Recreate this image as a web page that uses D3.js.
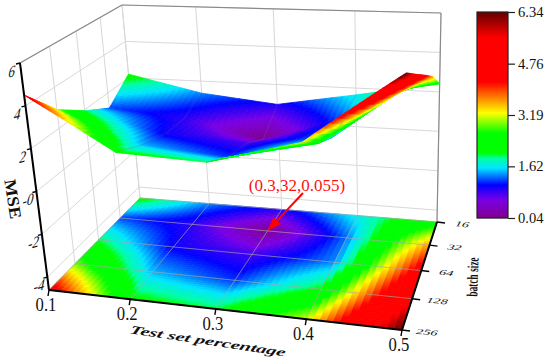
<!DOCTYPE html>
<html>
<head>
<meta charset="utf-8">
<script src="https://cdn.jsdelivr.net/npm/d3@7"></script>
<style>
  html, body { margin: 0; background: #fff; }
  text { font-family: "Liberation Serif", serif; }
</style>
</head>
<body>
<div id="chart"></div>
<script>
// values
var testShares = [0.1, 0.2, 0.3, 0.4, 0.5];
var batchSizes = [16, 32, 64, 128, 256];
var mse16  = [2.2, 1.35, 0.95, 1.65, 2.4];
var mse32  = [1.2, 0.9, 0.055, 1.3, 3.6];
var mse64  = [1.95, 1.0, 0.8, 1.35, 4.5];
var mse128 = [2.9, 1.45, 1.15, 2.05, 5.4];
var mse256 = [4.5, 2.1, 1.95, 3.1, 6.34];
var mseRows = [mse16, mse32, mse64, mse128, mse256];
var zTicks = [-4, -2, 0, 2, 4, 6];
var zLabels = ["-4", "-2", "-0", "2", "4", "6"];
var zFloor = -4.6;
var barTicks = [0.04, 1.62, 3.19, 4.76, 6.34];
var colorStops = [0.04, 0.59, 1.05, 1.57, 1.87, 2.03, 2.64, 3.25, 4.2, 5.55, 6.34];
var colorValues = ["#80008c", "#7a00e6", "#0000ff", "#00e6ff", "#00ffa0", "#00ff00", "#00ff00", "#ffff00", "#ff0000", "#ff0000", "#640000"];

var width = 550, height = 363;
var svg = d3.select("#chart").append("svg")
  .attr("width", width)
  .attr("height", height)
  .style("display", "block");

// screen corners of the box: front-left, front-right, back-right, back-left
var floorCorners = [[49, 290], [402, 330], [437, 222], [140, 198]];
var topCorners = [[20, 63], [406, 81], [441, 13], [122, 5]];

function quadMap(c) {
  // unit square -> quad, perspective
  var dx1 = c[1][0] - c[2][0], dx2 = c[3][0] - c[2][0], sx = c[0][0] - c[1][0] + c[2][0] - c[3][0];
  var dy1 = c[1][1] - c[2][1], dy2 = c[3][1] - c[2][1], sy = c[0][1] - c[1][1] + c[2][1] - c[3][1];
  var det = dx1 * dy2 - dx2 * dy1;
  var g = (sx * dy2 - dx2 * sy) / det;
  var h = (dx1 * sy - sx * dy1) / det;
  var a = c[1][0] - c[0][0] + g * c[1][0], b = c[3][0] - c[0][0] + h * c[3][0];
  var d = c[1][1] - c[0][1] + g * c[1][1], e = c[3][1] - c[0][1] + h * c[3][1];
  return function (u, v) {
    var w = g * u + h * v + 1;
    return [(a * u + b * v + c[0][0]) / w, (d * u + e * v + c[0][1]) / w];
  };
}
var floorMap = quadMap(floorCorners), topMap = quadMap(topCorners);

var uScale = d3.scaleLinear().domain([0.1, 0.5]).range([0, 1]);
var vScale = d3.scalePoint().domain(batchSizes.slice().reverse()).range([0, 1]);
var zScale = d3.scaleLinear().domain([zFloor, 6]).range([0, 1]);
var color = d3.scaleLinear().domain(colorStops).range(colorValues).clamp(true);

function project(u, v, z) {
  var f = floorMap(u, v), t = topMap(u, v), k = zScale(z);
  return [f[0] + (t[0] - f[0]) * k, f[1] + (t[1] - f[1]) * k];
}
var line = d3.line();

function pathLine(cls, stroke, w, a, b, op) {
  svg.append("path").attr("class", cls)
    .attr("d", line([a, b]))
    .attr("fill", "none")
    .attr("stroke", stroke)
    .attr("stroke-width", w)
    .attr("opacity", op === undefined ? 1 : op);
}

// walls
batchSizes.forEach(function (b) {
  pathLine("grid", "#d8d8d8", 1, project(0, vScale(b), zFloor), project(0, vScale(b), 6));
});
testShares.forEach(function (s) {
  pathLine("grid", "#d8d8d8", 1, project(uScale(s), 1, zFloor), project(uScale(s), 1, 6));
});
zTicks.forEach(function (z) {
  pathLine("grid", "#d8d8d8", 1, project(0, 0, z), project(0, 1, z));
  pathLine("grid", "#d8d8d8", 1, project(0, 1, z), project(1, 1, z));
});
pathLine("edge", "#8a8a8a", 1.2, project(0, 0, 6), project(0, 1, 6));
pathLine("edge", "#8a8a8a", 1.2, project(0, 1, 6), project(1, 1, 6));
pathLine("edge", "#8a8a8a", 1.2, project(1, 1, 6), project(1, 1, zFloor));

// bilinear read of the grid, used only to shade the mesh
function mseAt(i, j, fi, fj) {
  var r0 = mseRows[j], r1 = mseRows[Math.min(j + 1, 4)];
  var i1 = Math.min(i + 1, 4);
  return (r0[i] * (1 - fi) + r0[i1] * fi) * (1 - fj) + (r1[i] * (1 - fi) + r1[i1] * fi) * fj;
}

var steps = 14;
var cells = [];
d3.range(4).forEach(function (j) {
  d3.range(steps).forEach(function (sj) {
    d3.range(4).forEach(function (i) {
      d3.range(steps).forEach(function (si) {
        cells.push({ i: i, j: j, a: si / steps, b: sj / steps, c: (si + 1) / steps, d: (sj + 1) / steps });
      });
    });
  });
});
function cellPos(cell, fi, fj, flat) {
  var u = (cell.i + fi) / 4;
  var v = 1 - (cell.j + fj) / 4;
  return project(u, v, flat ? zFloor : mseAt(cell.i, cell.j, fi, fj));
}
function cellPath(flat) {
  return function (c) {
    return line([cellPos(c, c.a, c.b, flat), cellPos(c, c.c, c.b, flat), cellPos(c, c.c, c.d, flat), cellPos(c, c.a, c.d, flat)]) + "Z";
  };
}
function cellColor(c) {
  return color(mseAt(c.i, c.j, (c.a + c.c) / 2, (c.b + c.d) / 2));
}

// floor map
svg.append("g").attr("class", "floor").selectAll("path")
  .data(cells).join("path")
  .attr("d", cellPath(true))
  .attr("fill", cellColor)
  .attr("stroke", cellColor)
  .attr("stroke-width", 0.8);

batchSizes.forEach(function (b) {
  pathLine("mesh", "#a8a8a8", 1, project(0, vScale(b), zFloor), project(1, vScale(b), zFloor), 0.65);
});
testShares.forEach(function (s) {
  pathLine("mesh", "#a8a8a8", 1, project(uScale(s), 0, zFloor), project(uScale(s), 1, zFloor), 0.65);
});

// raised surface, back rows first
svg.append("g").attr("class", "surface").selectAll("path")
  .data(cells).join("path")
  .attr("d", cellPath(false))
  .attr("fill", cellColor)
  .attr("stroke", cellColor)
  .attr("stroke-width", 0.8);

// faint mesh on the surface
testShares.forEach(function (s, i) {
  if (i === 0 || i === 4) return;
  svg.append("path")
    .attr("d", line(batchSizes.map(function (b, j) { return project(uScale(s), vScale(b), mseRows[j][i]); })))
    .attr("fill", "none").attr("stroke", "#777").attr("stroke-width", 0.8).attr("opacity", 0.3);
});

// axes
pathLine("axis", "#000", 2, project(0, 0, zFloor), project(0, 0, 6));
pathLine("axis", "#000", 2, project(0, 0, zFloor), project(1, 0, zFloor));
pathLine("axis", "#000", 2, project(1, 0, zFloor), project(1, 1, zFloor));

function label(str, x, y, size, tf, attrs) {
  var t = svg.append("text")
    .attr("transform", "translate(" + x + "," + y + ") " + (tf || ""))
    .attr("text-anchor", "middle")
    .attr("dominant-baseline", "central")
    .attr("font-size", size)
    .attr("fill", "#111")
    .text(str);
  Object.keys(attrs || {}).forEach(function (k) { t.attr(k, attrs[k]); });
  return t;
}

testShares.forEach(function (s) {
  var p = project(uScale(s), 0, zFloor);
  pathLine("tick", "#000", 1.4, p, [p[0] - 1, p[1] + 6]);
  label(d3.format(".1f")(s), p[0] - 3, p[1] + 15, 17.5, "scale(0.95,1.05)");
});
batchSizes.forEach(function (b) {
  var p = project(1, vScale(b), zFloor);
  pathLine("tick", "#000", 1.4, p, [p[0] + 8, p[1] + 1]);
  label(b, p[0] + 25, p[1] + 2.5, 9.5, "rotate(5) skewX(-25) scale(1.5,0.8)");
});
zTicks.forEach(function (z, i) {
  var p = project(0, 0, z);
  pathLine("tick", "#000", 1.4, p, [p[0] - 4, p[1] + 1]);
  label(zLabels[i], p[0] - 8, p[1] + 8, 15, "rotate(12) skewY(-28) scale(0.8,1.15)");
});

label("MSE", 13, 199, 16, "rotate(81) scale(1.15,1.05)", { "font-weight": "bold" });
label("batch size", 473, 277, 13, "rotate(-88) scale(0.72,1.2)", { "font-weight": "bold" });
label("Test set percentage", 208, 341, 14, "rotate(8.5) skewX(-12) scale(1.45,0.85)", { "font-weight": "bold", "font-style": "italic" });

// annotation
var tip = project(uScale(0.3), vScale(32), zFloor);
var from = [303, 193];
var ang = Math.atan2(tip[1] - from[1], tip[0] - from[0]);
var neck = [tip[0] - 14 * Math.cos(ang), tip[1] - 14 * Math.sin(ang)];
pathLine("arrow", "#ff0000", 2, from, neck);
svg.append("path")
  .attr("d", line([
    tip,
    [neck[0] + 5 * Math.sin(ang), neck[1] - 5 * Math.cos(ang)],
    [neck[0] - 5 * Math.sin(ang), neck[1] + 5 * Math.cos(ang)]
  ]) + "Z")
  .attr("fill", "#ff0000");
label("(0.3,32,0.055)", 297, 185, 17, "", { fill: "#ff1010" });

// colour bar
var barScale = d3.scaleLinear().domain([0.04, 6.34]).range([218, 12]);
var barX = 477, barW = 31;
svg.append("g").attr("class", "bar").selectAll("rect")
  .data(d3.range(12, 218))
  .join("rect")
  .attr("x", barX)
  .attr("y", function (d) { return d; })
  .attr("width", barW)
  .attr("height", 1.2)
  .attr("fill", function (d) { return color(barScale.invert(d + 0.5)); });
svg.append("rect")
  .attr("x", barX).attr("y", 12).attr("width", barW).attr("height", 206)
  .attr("fill", "none").attr("stroke", "#222").attr("stroke-width", 1.2);

var barAxis = d3.axisRight(barScale)
  .tickValues(barTicks)
  .tickSize(7)
  .tickPadding(3)
  .tickFormat(d3.format(".2f"));
var barG = svg.append("g").attr("transform", "translate(" + (barX + barW) + ",0)").call(barAxis);
barG.select(".domain").remove();
barG.selectAll("line").attr("stroke", "#222").attr("stroke-width", 1.2);
barG.selectAll("text").attr("font-size", 14.5).attr("fill", "#111").style("font-family", '"Liberation Serif", serif');
</script>
</body>
</html>
